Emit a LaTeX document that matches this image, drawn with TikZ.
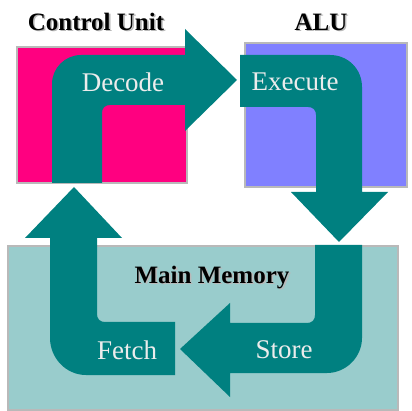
\documentclass[tikz,border=0pt]{standalone}
\usepackage{fontspec}
\setmainfont{Liberation Serif}
\usetikzlibrary{positioning}
\definecolor{teal}{HTML}{008080}
\definecolor{cupink}{HTML}{FF0080}
\definecolor{alublue}{HTML}{8080FF}
\definecolor{memcyan}{HTML}{99CCCC}
\definecolor{steptext}{HTML}{ECECEC}
\newcommand\shadowed[1]{\makebox[0pt][l]{\kern1.6pt\raisebox{-1.6pt}{\textcolor{gray!55}{#1}}}#1}
\tikzset{
	unitbox/.style={rectangle,draw=gray!55,line width=1.5pt,inner sep=0pt},
	title/.style={inner sep=0pt,font=\fontsize{25}{28}\selectfont\bfseries},
	blockarrow/.style={fill=teal},
	steplabel/.style={inner sep=0pt,text=steptext,font=\fontsize{27}{30}\selectfont}
}

\begin{document}
\begin{tikzpicture}[x=1pt,y=-1pt]
		\useasboundingbox (0,0) rectangle (412,411);
		% the three units
		\node[unitbox,fill=cupink,minimum width=170pt,minimum height=136pt] (cu) at (102,115) {};
		\node[unitbox,fill=alublue,minimum width=162pt,minimum height=144pt] (alu) at (326,115) {};
		\node[unitbox,fill=memcyan,minimum width=390pt,minimum height=164pt] (mem) at (203,328) {};
		
		\node[title,above=14pt of cu,xshift=-6pt] (cutitle) {\shadowed{Control Unit}};
		\node[title,above=10pt of alu,xshift=-5pt] (alutitle) {\shadowed{ALU}};
		\node[title] (memtitle) at (212,278) {\shadowed{Main Memory}};
		
		% decode
		\fill[blockarrow] (52,183) -- (52,84) .. controls (52,68) and (65,55) .. (81,55) -- (185,55) -- (185,29)
			-- (237,80) -- (185,131) -- (185,105) -- (110,105) .. controls (105,105) and (102,108) .. (102,113) -- (102,183) -- cycle;
		% execute
		\fill[blockarrow] (240,55) -- (330,55) .. controls (348,55) and (362,69) .. (362,87) -- (362,192) -- (388,192)
			-- (339,242) -- (291,192) -- (316,192) -- (316,115) .. controls (316,110) and (313,107) .. (308,107) -- (240,107) -- cycle;
		% store
		\fill[blockarrow] (315,245) -- (315,315) .. controls (315,320) and (312,323) .. (307,323) -- (230,323) -- (230,303)
			-- (180,349) -- (230,397) -- (230,373) -- (327,373) .. controls (346,373) and (362,357) .. (362,338) -- (362,245) -- cycle;
		% fetch
		\fill[blockarrow] (175,322) -- (105,322) .. controls (100,322) and (97,319) .. (97,314) -- (97,238) -- (122,238)
			-- (74,187) -- (25,238) -- (50,238) -- (50,338) .. controls (50,358) and (66,375) .. (86,375) -- (175,375) -- cycle;
		
		\node[steplabel] (decode) at (123,82) {Decode};
		\node[steplabel] (execute) at (295,82) {Execute};
		\node[steplabel] (store) at (284,350) {Store};
		\node[steplabel] (fetch) at (127,350) {Fetch};
\end{tikzpicture}
\end{document}
